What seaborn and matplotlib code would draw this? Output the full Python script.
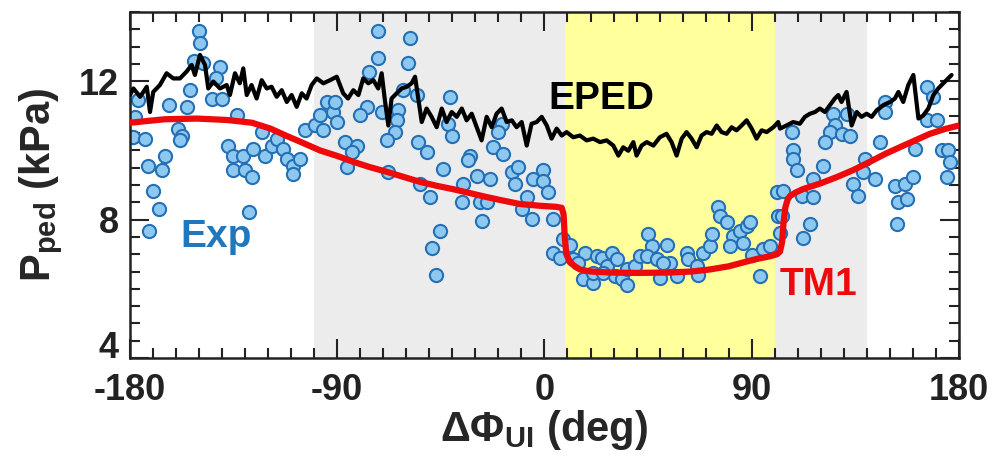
import numpy as np
import pandas as pd
import matplotlib
matplotlib.use("Agg")
import matplotlib.pyplot as plt
import seaborn as sns
from matplotlib.ticker import MultipleLocator, FuncFormatter

# EPED prediction (black line)
eped_phi = [-180, -178.5, -175.6, -172.7, -171.3, -169.9, -167.0, -164.1, -161.2, -158.3,
            -155.4, -153.2, -151.8, -149.6, -147.4, -146.0, -143.8, -140.9, -138.0, -136.6,
            -134.4, -132.3, -130.8, -129.3, -127.2, -125.0, -122.8, -120.6, -118.5, -116.3,
            -114.1, -111.9, -109.8, -107.6, -105.4, -103.3, -101.1, -98.9, -96.0, -93.1,
            -90.2, -87.4, -85.3, -83.0, -80.8, -78.7, -76.5, -74.3, -72.2, -70.7,
            -69.3, -67.8, -66.4, -64.2, -62.0, -59.8, -57.7, -56.2, -54.8, -53.3,
            -51.2, -49.0, -46.8, -44.6, -42.5, -40.3, -38.1, -35.9, -33.8, -31.6,
            -29.4, -27.3, -25.1, -22.9, -20.8, -18.6, -16.4, -14.2, -12.1, -9.9,
            -7.7, -5.6, -3.4, -1.2, 1.0, 3.1, 5.3, 7.5, 9.6, 12.5,
            15.4, 18.3, 21.2, 24.1, 27.0, 29.9, 32.1, 34.2, 36.4, 38.6,
            40.0, 42.2, 44.4, 47.3, 50.1, 53.0, 55.2, 57.4, 59.6, 61.7,
            63.9, 66.1, 68.2, 70.4, 72.6, 74.8, 76.9, 79.1, 81.3, 83.4,
            85.6, 87.8, 90.0, 92.1, 94.3, 96.5, 99.4, 101.5, 102.3, 105.1,
            108.0, 110.9, 113.1, 115.3, 117.5, 119.6, 121.8, 124.0, 126.1, 127.6,
            129.0, 131.2, 133.4, 135.6, 137.7, 139.9, 142.1, 144.3, 147.2, 150.1,
            152.2, 153.7, 155.8, 158.0, 160.2, 162.4, 164.5, 166.7, 168.9, 171.0,
            173.2, 176.8]
eped_p = [11.60, 11.79, 11.55, 11.84, 11.11, 11.69, 11.89, 12.23, 12.08, 12.08,
          12.28, 12.47, 12.18, 12.76, 12.47, 11.79, 11.99, 11.79, 11.89, 11.60,
          12.23, 11.94, 12.37, 11.60, 11.89, 11.50, 12.03, 11.79, 11.84, 11.55,
          11.74, 11.40, 11.60, 11.26, 11.65, 11.50, 11.89, 12.08, 11.94, 12.03,
          12.13, 11.65, 11.50, 11.74, 11.60, 12.08, 11.94, 12.03, 11.79, 12.23,
          11.45, 10.72, 11.50, 11.65, 11.79, 11.84, 11.94, 12.13, 11.50, 10.82,
          11.21, 10.97, 10.67, 11.21, 10.82, 11.11, 10.97, 11.21, 10.87, 11.06,
          10.67, 10.29, 10.97, 10.67, 11.06, 11.21, 10.82, 10.87, 10.67, 10.82,
          10.14, 10.77, 10.82, 10.97, 10.72, 10.34, 10.63, 10.43, 10.53, 10.38,
          10.43, 10.29, 10.34, 10.24, 10.29, 10.14, 9.85, 10.09, 9.99, 10.24,
          9.85, 10.14, 10.24, 10.14, 10.38, 10.48, 10.24, 9.85, 10.34, 10.53,
          10.34, 10.09, 10.43, 10.53, 10.48, 10.72, 10.53, 10.48, 10.67, 10.58,
          10.72, 10.87, 10.63, 10.34, 10.58, 10.53, 10.67, 10.82, 10.63, 10.72,
          10.82, 10.77, 10.97, 11.06, 11.11, 11.21, 11.11, 11.31, 11.50, 11.60,
          11.40, 11.69, 10.72, 11.11, 10.97, 11.06, 10.97, 11.16, 11.31, 11.40,
          11.50, 11.69, 11.40, 11.89, 12.18, 10.92, 11.01, 11.21, 11.60, 11.79,
          11.94, 12.18]

# TM1 model (red line)
tm1_phi = [-180, -165, -151, -138, -127, -119, -112, -105, -97.5, -90, -83, -76, -68.4,
           -61, -54, -47, -39.7, -32, -25, -18, -10.6, -2, 5, 7.5, 8.3, 8.8, 9.5, 11,
           13, 15.4, 20, 28.4, 40, 54.5, 64, 71.9, 80, 86.2, 92, 97.9, 101, 102.3,
           103.2, 103.8, 104.6, 105.6, 106.6, 109, 112.2, 120, 127, 134, 141.3, 148,
           155.6, 162, 167.4, 174, 180]
tm1_p = [10.80, 10.90, 10.92, 10.88, 10.80, 10.63, 10.42, 10.22, 10.00, 9.84, 9.67, 9.52,
         9.38, 9.23, 9.09, 8.98, 8.88, 8.76, 8.65, 8.55, 8.45, 8.40, 8.37, 8.34, 8.15,
         7.50, 7.00, 6.78, 6.66, 6.56, 6.50, 6.47, 6.46, 6.47, 6.50, 6.56, 6.65, 6.76,
         6.86, 6.94, 7.00, 7.08, 7.35, 7.90, 8.35, 8.58, 8.68, 8.78, 8.88, 9.05,
         9.23, 9.43, 9.67, 9.90, 10.13, 10.32, 10.48, 10.62, 10.72]

# experimental points (Exp)
exp_phi = [-149.9, -149.6, -152.2, -148.2, -140.9, -142.6, -153.9, -144.5, -140.2, -176.4,
           -162.9, -155.4, -177.8, -133.7, -179.0, -178.6, -173.5, -159.0, -157.5, -158.3,
           -137.3, -135.1, -130.8, -126.4, -122.8, -121.4, -118.5, -116.3, -113.4, -111.9,
           -109.1, -109.1, -106.2, -104.0, -99.7, -97.5, -94.6, -91.7, -90.2, -96.0,
           -172.0, -166.2, -164.8, -135.1, -130.0, -127.1, -169.9, -167.3, -171.6, -128.2,
           -72.2, -58.4, -72.2, -59.1, -76.1, -61.3, -55.5, -41.0, -91.0, -77.2,
           -80.1, -70.7, -63.5, -64.2, -64.9, -68.5, -86.6, -81.5, -83.7, -85.9,
           -54.8, -51.2, -41.8, -40.3, -18.6, -20.1, -22.2, -17.9, -32.3, -33.1,
           -43.9, -29.4, -23.7, -14.2, -11.4, -12.8, -4.9, -0.5, -0.5, 1.7,
           -7.7, -9.9, -5.6, 3.8, -35.3, -36.0, -28.0, -25.1, -27.3, -54.1,
           -49.7, -45.4, -49.0, -47.1, -67.8, 3.8, 6.7, 8.2,
           11.1, 12.5, 17.6, 16.8, 21.2, 22.7, 24.8, 21.2, 27.0, 29.2,
           31.4, 30.6, 33.5, 35.7, 35.7, 39.3, 41.5, 45.1, 46.5, 44.4,
           48.7, 50.2, 53.1, 54.5, 51.6, 57.4, 61.7, 62.4, 66.1, 66.8,
           69.0, 71.9, 72.6, 75.5, 76.2, 79.1, 82.0, 80.5, 84.9, 87.8,
           89.2, 86.3, 90.0, 93.6, 95.0, 97.9, 100.8, 101.5, 14.6, 25.4,
           125.4, 131.2, 126.1, 124.0, 121.8, 129.0, 132.7, 107.3, 108.0, 108.0,
           109.5, 121.1, 116.7, 111.7, 116.7, 103.7, 103.0, 102.3, 115.3, 112.4,
           134.1, 136.3, 138.4, 139.2, 143.5, 145.7, 147.9, 147.9, 152.2, 156.5,
           153.6, 157.3, 160.2, 152.9, 160.9, 166.0, 168.8, 166.0, 170.3, 172.5,
           175.3, 176.1, 174.6]
exp_p = [13.44, 13.10, 12.57, 12.52, 12.42, 12.08, 11.74, 11.50, 11.50, 11.45,
         11.31, 11.26, 10.97, 11.01, 10.39, 10.39, 10.34, 10.63, 10.43, 10.29,
         10.14, 9.85, 9.85, 10.05, 10.53, 9.85, 10.14, 10.34, 10.05, 9.76,
         9.56, 9.32, 9.76, 10.58, 10.72, 11.01, 11.40, 11.11, 10.82, 10.58,
         9.56, 9.42, 9.85, 9.42, 9.42, 9.22, 8.83, 8.32, 7.67, 8.21,
         13.44, 13.24, 12.66, 12.52, 12.28, 11.74, 11.60, 11.55, 11.40, 11.26,
         11.01, 11.11, 11.16, 10.87, 10.53, 10.29, 10.24, 10.14, 9.95, 9.51,
         10.24, 9.95, 10.77, 10.43, 10.77, 10.53, 10.09, 9.90, 9.85, 9.71,
         9.47, 9.27, 9.17, 9.37, 9.51, 9.03, 9.17, 9.42, 9.13, 8.79,
         8.64, 8.30, 8.01, 8.01, 9.03, 8.50, 8.50, 8.50, 7.96, 9.03,
         8.64, 7.67, 7.19, 6.41, 9.37, 7.04, 6.90, 7.43,
         7.28, 6.85, 7.04, 6.27, 6.17, 6.94, 6.90, 6.46, 6.65, 7.04,
         6.85, 6.36, 6.27, 6.12, 6.56, 6.65, 6.94, 7.58, 7.24, 6.94,
         6.85, 6.32, 7.28, 6.75, 6.75, 6.36, 7.04, 6.85, 6.65, 6.41,
         7.04, 7.24, 7.58, 8.35, 8.11, 7.92, 7.53, 7.24, 7.67, 7.82,
         7.92, 7.33, 6.99, 6.36, 7.14, 7.24, 8.79, 8.11, 6.75, 6.46,
         11.06, 11.06, 10.72, 10.53, 10.24, 10.48, 10.43, 10.53, 10.00, 9.76,
         9.42, 9.56, 9.17, 8.69, 8.64, 8.83, 8.11, 7.62, 7.87, 7.48,
         9.03, 8.69, 9.37, 9.76, 9.17, 10.24, 11.40, 11.11, 8.98, 9.03,
         8.50, 8.59, 9.22, 7.87, 10.05, 11.84, 11.55, 10.87, 10.87, 10.00,
         10.00, 9.66, 9.22]

exp_df = pd.DataFrame({"phi": exp_phi, "p": exp_p})
eped_df = pd.DataFrame({"phi": eped_phi, "p": eped_p})
tm1_df = pd.DataFrame({"phi": tm1_phi, "p": tm1_p})

sns.set_style("ticks")
plt.rcParams["font.family"] = ["Liberation Sans", "DejaVu Sans"]
plt.rcParams["font.weight"] = "bold"
plt.rcParams["axes.unicode_minus"] = False
plt.rcParams["mathtext.fontset"] = "custom"
plt.rcParams["mathtext.rm"] = "Liberation Sans:bold"
plt.rcParams["mathtext.it"] = "Liberation Sans:bold"
plt.rcParams["mathtext.bf"] = "Liberation Sans:bold"

fig = plt.figure(figsize=(9.96, 4.62), dpi=100)
ax = fig.add_axes([0.1305, 0.2251, 0.8323, 0.7489])

ax.axvspan(-100, 140, color="#ececec", lw=0, zorder=0)
ax.axvspan(9, 100, color="#ffff9c", lw=0, zorder=0)

sns.scatterplot(data=exp_df, x="phi", y="p", ax=ax, s=90, color="#8cc8f0",
                edgecolor="#2570b5", linewidth=1.5, zorder=2, legend=False)
sns.lineplot(data=eped_df, x="phi", y="p", ax=ax, color="black", lw=3,
             estimator=None, sort=False, zorder=3)
sns.lineplot(data=tm1_df, x="phi", y="p", ax=ax, color="#ee0a0a", lw=4.5,
             estimator=None, sort=False, zorder=4)

ax.text(1.5, 11.5, "EPED", fontsize=28, fontweight="bold", color="black",
        ha="left", va="center", zorder=5)
ax.text(-158.3, 7.49, "Exp", fontsize=28, fontweight="bold", color="#1f78be",
        ha="left", va="center", zorder=5)
ax.text(102.3, 6.12, "TM1", fontsize=28, fontweight="bold", color="#ee0a0a",
        ha="left", va="center", zorder=5)

ax.set_xlim(-180, 180)
ax.set_ylim(4, 14)
ax.xaxis.set_major_locator(MultipleLocator(90))
ax.xaxis.set_minor_locator(MultipleLocator(10))
ax.yaxis.set_major_locator(MultipleLocator(4))
ax.yaxis.set_minor_locator(MultipleLocator(0.5))
# bottom "4" is drawn separately, a little higher, so it clears "-180"
ax.yaxis.set_major_formatter(FuncFormatter(lambda v, pos: "" if v < 5 else f"{v:g}"))
ax.tick_params(which="both", direction="in", top=True, right=True, width=1.5,
               colors="#222222")
ax.tick_params(which="major", length=14, labelsize=26, pad=8)
ax.tick_params(axis="x", which="major", pad=11)
ax.tick_params(which="minor", length=7)
for lab in ax.get_xticklabels() + ax.get_yticklabels():
    lab.set_fontweight("bold")
for sp in ax.spines.values():
    sp.set_linewidth(1.8)
    sp.set_color("#222222")

ax.annotate("4", xy=(0, 4), xycoords=("axes fraction", "data"), xytext=(-8, 7),
            textcoords="offset points", ha="right", va="center", fontsize=26,
            fontweight="bold", color="#222222", annotation_clip=False)

ax.set_xlabel("ΔΦ$_{UI}$ (deg)", fontsize=30, fontweight="bold", labelpad=0)
ax.set_ylabel("P$_{ped}$ (kPa)", fontsize=30, fontweight="bold", labelpad=10)

fig.savefig("out.png", dpi=100)
